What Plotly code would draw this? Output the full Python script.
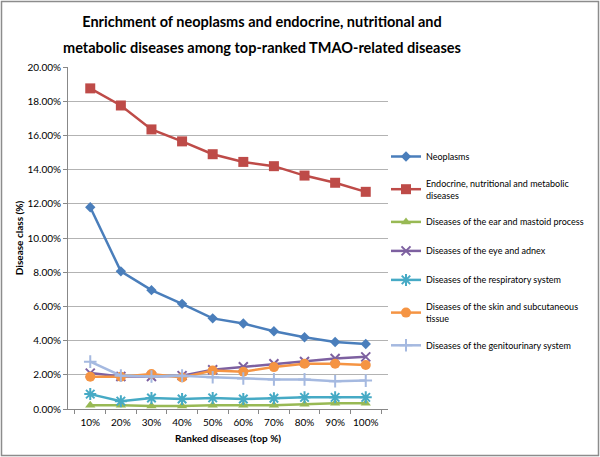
import plotly.graph_objects as go

categories = ["10%", "20%", "30%", "40%", "50%", "60%", "70%", "80%", "90%", "100%"]

neoplasms = [11.8, 8.05, 6.95, 6.15, 5.3, 5.0, 4.55, 4.2, 3.92, 3.8]
endocrine = [18.75, 17.75, 16.35, 15.65, 14.9, 14.45, 14.2, 13.65, 13.23, 12.7]
ear = [0.22, 0.22, 0.17, 0.17, 0.22, 0.22, 0.22, 0.28, 0.33, 0.33]
eye = [2.1, 1.9, 1.9, 1.95, 2.3, 2.47, 2.65, 2.78, 2.95, 3.05]
respiratory = [0.87, 0.46, 0.64, 0.58, 0.65, 0.58, 0.63, 0.68, 0.68, 0.68]
skin = [1.89, 1.89, 2.05, 1.84, 2.25, 2.18, 2.45, 2.65, 2.65, 2.57]
genito = [2.77, 1.95, 1.9, 1.95, 1.86, 1.78, 1.73, 1.73, 1.62, 1.66]

series_names = [
    "Neoplasms",
    "Endocrine, nutritional and metabolic<br>diseases",
    "Diseases of the ear and mastoid process",
    "Diseases of the eye and adnex",
    "Diseases of the respiratory system",
    "Diseases of the skin and subcutaneous<br>tissue",
    "Diseases of the genitourinary system",
]
series_values = [neoplasms, endocrine, ear, eye, respiratory, skin, genito]
colors = ["#4A7EBB", "#BE4B48", "#98B954", "#7D60A0", "#46AAC5", "#F59443", "#A5B9E0"]
symbols = ["diamond", "square", "triangle-up", "x-thin-open", "asterisk-open", "circle", "cross-thin-open"]
sizes = [8, 10, 9, 9, 10, 10, 9]

title_line1 = "Enrichment of neoplasms and endocrine, nutritional and"
title_line2 = "metabolic diseases among top-ranked TMAO-related diseases"

fig = go.Figure()
for i, (name, vals) in enumerate(zip(series_names, series_values)):
    thin = symbols[i].endswith("-open")
    fig.add_trace(go.Scatter(
        x=categories,
        y=[v / 100 for v in vals],
        name=name,
        mode="lines+markers",
        legendgroup=f"g{i}",
        line=dict(color=colors[i], width=2.5),
        marker=dict(symbol=symbols[i], size=sizes[i], color=colors[i],
                    line=dict(color=colors[i], width=2 if thin else 0)),
    ))

FONT = "Lato, 'Noto Sans', sans-serif"
L, R, T, B = 68, 212, 67, 48
W, H = 600, 457
pw, ph = W - L - R, H - T - B
title_font = dict(family=FONT, size=14.5, color="#000000", weight="bold")

fig.update_layout(
    width=W, height=H,
    margin=dict(l=L, r=R, t=T, b=B, autoexpand=False),
    paper_bgcolor="white",
    plot_bgcolor="white",
    font=dict(family=FONT, size=10, color="#000000"),
    title=dict(
        text=title_line1,
        font=title_font,
        x=262 / W, xanchor="center", y=1 - 22 / H, yanchor="middle",
    ),
    annotations=[dict(
        text=title_line2, font=title_font, showarrow=False,
        xref="paper", yref="paper",
        x=(262 - L) / pw, xanchor="center",
        y=1 + (T - 48) / ph, yanchor="middle",
    )],
    showlegend=True,
    legend=dict(
        x=1 + (386 - (L + pw)) / pw, xanchor="left",
        y=1 - (142 - T) / ph, yanchor="top",
        font=dict(family=FONT, size=9, color="#000000"),
        tracegroupgap=10,
        traceorder="grouped",
        itemwidth=30,
        bgcolor="rgba(0,0,0,0)",
    ),
    xaxis=dict(
        type="category",
        tickson="boundaries",
        tickangle=0,
        automargin=False,
        ticks="outside", ticklen=4, tickcolor="#888888",
        ticklabelstandoff=4,
        showline=True, linecolor="#888888", linewidth=1,
        showgrid=False,
        tickfont=dict(family=FONT, size=10),
        title=dict(text="Ranked diseases (top %)", font=dict(family=FONT, size=10, weight="bold"), standoff=7),
    ),
    yaxis=dict(
        range=[0, 0.2],
        dtick=0.02,
        tickformat=".2%",
        automargin=False,
        ticks="outside", ticklen=4, tickcolor="#888888",
        showline=True, linecolor="#888888", linewidth=1,
        showgrid=True, gridcolor="#B3B3B3", gridwidth=1,
        zeroline=False,
        tickfont=dict(family=FONT, size=10),
        title=dict(text="Disease class (%)", font=dict(family=FONT, size=10, weight="bold"), standoff=1),
    ),
    shapes=[dict(
        type="rect", xref="paper", yref="paper",
        x0=-(L - 1.5) / pw, x1=1 + (R - 1.5) / pw,
        y0=-(B - 1.5) / ph, y1=1 + (T - 1.5) / ph,
        line=dict(color="#8C8C8C", width=1.5), fillcolor="rgba(0,0,0,0)",
        layer="below",
    )],
)

fig.write_html(
    "out.html",
    config={"displayModeBar": False},
    post_script="document.body.style.margin='0';document.body.style.overflow='hidden';",
)
